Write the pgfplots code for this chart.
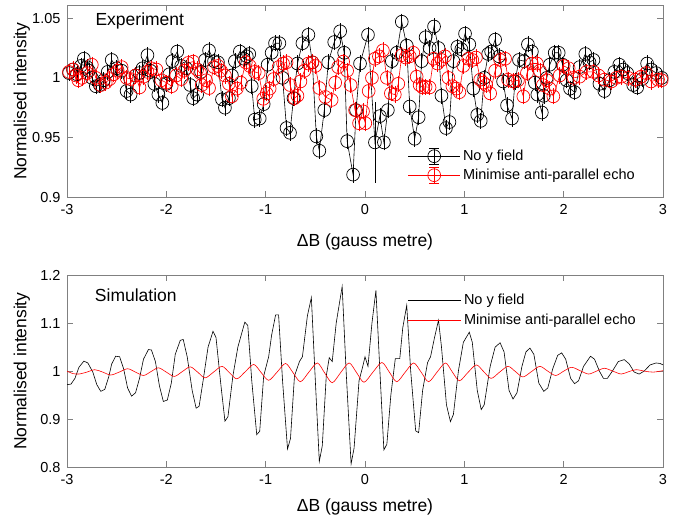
\documentclass[border=0pt]{standalone}
\usepackage{fontspec}
\setmainfont{Liberation Sans}
\usepackage{pgfplots}
\usepackage{pgfplotstable}
\pgfplotsset{compat=1.18}
\definecolor{axgray}{RGB}{128,128,128}

% experiment, no y field
\pgfplotstableread{
x y e
-2.98 1.004 0.003
-2.94 1.007 0.003
-2.90 1.003 0.003
-2.86 1.010 0.003
-2.83 1.016 0.003
-2.80 1.009 0.003
-2.78 1.006 0.003
-2.75 1.000 0.003
-2.71 0.993 0.003
-2.67 0.994 0.003
-2.63 0.998 0.003
-2.59 1.005 0.003
-2.55 1.015 0.003
-2.50 1.008 0.003
-2.45 1.006 0.003
-2.40 0.989 0.003
-2.36 0.986 0.003
-2.31 1.002 0.003
-2.27 1.004 0.003
-2.24 1.008 0.003
-2.19 1.019 0.003
-2.16 1.006 0.003
-2.12 0.995 0.003
-2.08 0.986 0.003
-2.04 0.979 0.003
-2.00 0.995 0.003
-1.97 1.003 0.003
-1.94 1.014 0.003
-1.89 1.022 0.003
-1.85 1.010 0.003
-1.80 1.008 0.003
-1.76 0.994 0.003
-1.73 0.983 0.003
-1.69 0.986 0.003
-1.65 1.005 0.003
-1.61 1.015 0.003
-1.57 1.023 0.003
-1.52 1.014 0.003
-1.48 1.013 0.003
-1.44 0.982 0.003
-1.41 0.975 0.003
-1.37 0.983 0.003
-1.34 1.002 0.003
-1.31 1.014 0.003
-1.26 1.022 0.003
-1.22 1.016 0.003
-1.19 1.018 0.003
-1.165 1.020 0.003
-1.14 0.993 0.003
-1.11 0.965 0.003
-1.06 0.966 0.003
-1.02 0.978 0.003
-0.98 1.011 0.003
-0.94 1.021 0.003
-0.906 1.029 0.003
-0.862 1.029 0.003
-0.83 1.000 0.003
-0.79 0.958 0.003
-0.755 0.954 0.003
-0.72 0.983 0.003
-0.68 1.012 0.003
-0.63 1.029 0.003
-0.57 1.036 0.003
-0.53 1.013 0.003
-0.49 0.951 0.003
-0.46 0.939 0.003
-0.41 0.973 0.003
-0.37 1.013 0.003
-0.31 1.030 0.003
-0.25 1.039 0.003
-0.21 1.021 0.003
-0.18 0.947 0.003
-0.12 0.919 0.003
-0.09 0.973 0.003
-0.05 1.012 0.003
0.03 1.036 0.003
0.10 0.946 0.030
0.15 0.968 0.003
0.19 0.946 0.003
0.23 0.973 0.003
0.27 1.014 0.003
0.32 1.021 0.003
0.37 1.047 0.003
0.42 1.027 0.003
0.45 0.976 0.003
0.50 0.949 0.003
0.54 0.967 0.003
0.57 1.014 0.003
0.61 1.034 0.003
0.65 1.025 0.003
0.695 1.043 0.003
0.74 1.025 0.003
0.77 0.985 0.003
0.815 0.958 0.003
0.85 0.963 0.003
0.89 1.014 0.003
0.93 1.026 0.003
0.97 1.024 0.003
1.007 1.037 0.003
1.05 1.028 0.003
1.09 0.991 0.003
1.13 0.969 0.003
1.165 0.964 0.003
1.20 1.000 0.003
1.24 1.020 0.003
1.27 1.022 0.003
1.31 1.032 0.003
1.35 1.018 0.003
1.39 0.997 0.003
1.43 0.977 0.003
1.48 0.966 0.003
1.51 0.997 0.003
1.55 1.015 0.003
1.60 1.014 0.003
1.64 1.028 0.003
1.68 1.022 0.003
1.71 0.996 0.003
1.735 0.986 0.003
1.78 0.971 0.003
1.80 0.985 0.003
1.83 1.000 0.003
1.86 1.011 0.003
1.91 1.021 0.003
1.95 1.021 0.003
1.99 1.011 0.003
2.03 0.998 0.003
2.064 0.991 0.003
2.11 0.988 0.003
2.16 1.009 0.003
2.218 1.020 0.003
2.26 1.013 0.003
2.30 1.015 0.003
2.36 0.995 0.003
2.41 0.989 0.003
2.46 0.998 0.003
2.51 1.005 0.003
2.56 1.011 0.003
2.60 1.007 0.003
2.64 1.004 0.003
2.70 0.994 0.003
2.74 0.992 0.003
2.79 0.999 0.003
2.84 1.012 0.003
2.88 1.007 0.003
2.93 1.004 0.003
2.987 1.000 0.003
}\expnoy

% experiment, minimise anti-parallel echo
\pgfplotstableread{
x y e
-2.98 1.005 0.003
-2.94 1.007 0.003
-2.91 1.002 0.003
-2.886 0.998 0.003
-2.85 1.000 0.003
-2.80 1.004 0.003
-2.75 1.011 0.003
-2.71 1.000 0.003
-2.66 0.994 0.003
-2.61 0.996 0.003
-2.57 0.999 0.003
-2.53 1.003 0.003
-2.49 1.006 0.003
-2.45 1.009 0.003
-2.40 1.000 0.003
-2.36 0.999 0.003
-2.31 1.002 0.003
-2.27 0.992 0.003
-2.23 1.001 0.003
-2.19 1.005 0.003
-2.15 1.008 0.003
-2.10 1.007 0.003
-2.05 0.998 0.003
-2.00 0.996 0.003
-1.946 0.993 0.003
-1.90 1.002 0.003
-1.85 0.999 0.003
-1.82 1.006 0.003
-1.78 1.0125 0.003
-1.73 1.0136 0.003
-1.69 1.007 0.003
-1.66 1.004 0.003
-1.644 0.994 0.003
-1.60 0.998 0.003
-1.57 0.9915 0.003
-1.52 1.009 0.003
-1.48 1.010 0.003
-1.45 1.006 0.003
-1.41 1.002 0.003
-1.37 0.995 0.003
-1.34 0.9845 0.003
-1.29 0.991 0.003
-1.25 0.996 0.003
-1.20 1.013 0.003
-1.16 1.010 0.003
-1.11 1.005 0.003
-1.07 1.004 0.003
-1.024 0.9825 0.003
-0.99 0.987 0.003
-0.96 0.991 0.003
-0.92 0.999 0.003
-0.87 1.009 0.003
-0.825 1.012 0.003
-0.79 1.013 0.003
-0.755 0.994 0.003
-0.71 0.983 0.003
-0.68 0.985 0.003
-0.65 0.997 0.003
-0.61 1.006 0.003
-0.57 1.012 0.003
-0.53 1.013 0.003
-0.50 1.010 0.003
-0.46 0.9915 0.003
-0.40 0.984 0.003
-0.336 0.9815 0.003
-0.30 0.996 0.003
-0.27 1.009 0.003
-0.22 1.0136 0.003
-0.18 1.006 0.003
-0.145 0.994 0.003
-0.10 0.973 0.003
-0.06 0.962 0.003
-0.02 0.972 0.003
0.003 0.962 0.003
0.037 0.989 0.003
0.07 1.000 0.003
0.10 1.016 0.003
0.14 1.018 0.003
0.18 1.023 0.003
0.22 1.000 0.003
0.26 0.987 0.003
0.30 0.986 0.003
0.335 0.995 0.003
0.37 1.019 0.003
0.41 1.017 0.003
0.45 1.018 0.003
0.486 1.021 0.003
0.52 1.001 0.003
0.55 0.994 0.003
0.58 0.992 0.003
0.61 0.9925 0.003
0.65 0.992 0.003
0.69 1.016 0.003
0.73 1.012 0.003
0.77 1.015 0.003
0.805 1.018 0.003
0.84 1.000 0.003
0.88 0.993 0.003
0.92 0.991 0.003
0.95 0.988 0.003
0.99 1.010 0.003
1.04 1.016 0.003
1.08 1.015 0.003
1.117 1.017 0.003
1.16 0.9985 0.003
1.19 0.996 0.003
1.22 0.994 0.003
1.26 0.987 0.003
1.31 1.006 0.003
1.36 1.015 0.003
1.41 1.016 0.003
1.44 0.9985 0.003
1.49 0.997 0.003
1.54 0.998 0.003
1.594 0.9845 0.003
1.63 1.004 0.003
1.68 1.012 0.003
1.73 1.012 0.003
1.76 1.006 0.003
1.79 0.994 0.003
1.83 0.998 0.003
1.86 0.991 0.003
1.896 0.9845 0.003
1.96 1.002 0.003
2.00 1.010 0.003
2.05 1.008 0.003
2.10 1.000 0.003
2.16 1.001 0.003
2.23 1.005 0.003
2.30 1.005 0.003
2.35 1.002 0.003
2.41 0.9985 0.003
2.48 0.997 0.003
2.53 1.000 0.003
2.58 1.001 0.003
2.65 1.000 0.003
2.72 0.9985 0.003
2.78 1.001 0.003
2.83 1.004 0.003
2.88 0.997 0.003
2.95 0.9985 0.003
2.987 0.998 0.003
}\expmin

% simulation, no y field
\pgfplotstableread{
x y
-3.00 0.972
-2.96 0.973
-2.92 0.985
-2.88 1.008
-2.83 1.021
-2.79 1.017
-2.74 0.998
-2.70 0.972
-2.66 0.958
-2.62 0.962
-2.58 0.988
-2.55 1.015
-2.51 1.031
-2.47 1.030
-2.43 1.005
-2.39 0.965
-2.35 0.948
-2.31 0.955
-2.27 0.985
-2.23 1.025
-2.18 1.045
-2.15 1.044
-2.11 1.020
-2.07 0.970
-2.03 0.937
-1.99 0.940
-1.95 0.975
-1.91 1.035
-1.86 1.064
-1.83 1.066
-1.79 1.030
-1.74 0.960
-1.70 0.923
-1.67 0.927
-1.63 0.980
-1.58 1.050
-1.53 1.083
-1.50 1.070
-1.45 0.970
-1.41 0.896
-1.38 0.905
-1.33 0.990
-1.28 1.050
-1.21 1.102
-1.18 1.095
-1.14 0.980
-1.09 0.868
-1.06 0.875
-1.02 0.990
-0.97 1.030
-0.94 1.075
-0.90 1.117
-0.87 1.117
-0.83 0.980
-0.78 0.838
-0.75 0.860
-0.71 0.990
-0.66 1.020
-0.63 1.030
-0.58 1.115
-0.54 1.153
-0.50 0.980
-0.46 0.812
-0.43 0.845
-0.39 0.990
-0.36 1.028
-0.33 1.020
-0.29 1.100
-0.23 1.176
-0.19 1.000
-0.14 0.807
-0.11 0.840
-0.06 0.980
-0.02 1.012
0.00 1.030
0.03 1.010
0.07 1.100
0.11 1.168
0.15 1.000
0.19 0.836
0.22 0.848
0.26 0.950
0.305 1.026
0.35 1.026
0.38 1.090
0.42 1.137
0.46 1.000
0.51 0.876
0.54 0.872
0.58 0.960
0.63 1.018
0.66 1.030
0.70 1.070
0.74 1.106
0.77 1.050
0.82 0.930
0.86 0.895
0.89 0.910
0.94 1.000
0.99 1.060
1.05 1.081
1.08 1.060
1.13 0.960
1.17 0.920
1.20 0.930
1.26 1.010
1.31 1.050
1.36 1.059
1.40 1.040
1.45 0.960
1.49 0.942
1.53 0.955
1.58 1.010
1.62 1.040
1.66 1.048
1.70 1.035
1.75 0.975
1.80 0.958
1.84 0.965
1.89 1.005
1.94 1.033
1.98 1.038
2.02 1.025
2.07 0.985
2.11 0.974
2.15 0.980
2.20 1.010
2.27 1.031
2.31 1.025
2.36 1.000
2.40 0.985
2.44 0.985
2.49 1.000
2.55 1.020
2.61 1.024
2.66 1.015
2.71 0.998
2.76 0.994
2.81 1.000
2.87 1.013
2.93 1.017
2.97 1.016
3.00 1.013
}\simnoy

% simulation, minimise anti-parallel echo
\pgfplotstableread{
x y
-3.00 1.000
-2.94 0.995
-2.88 0.994
-2.80 0.998
-2.72 1.003
-2.64 0.998
-2.56 0.992
-2.475 0.998
-2.39 1.005
-2.31 0.998
-2.23 0.991
-2.155 0.999
-2.08 1.007
-2.00 0.998
-1.92 0.989
-1.84 0.999
-1.76 1.009
-1.685 0.998
-1.61 0.986
-1.525 0.998
-1.44 1.010
-1.365 0.997
-1.29 0.984
-1.205 0.999
-1.12 1.014
-1.045 0.997
-0.97 0.981
-0.885 0.998
-0.80 1.016
-0.725 0.997
-0.65 0.978
-0.565 0.998
-0.48 1.017
-0.405 0.996
-0.33 0.976
-0.245 0.997
-0.16 1.017
-0.085 0.997
-0.01 0.977
0.08 0.998
0.17 1.018
0.245 0.998
0.32 0.978
0.405 0.998
0.49 1.017
0.565 0.998
0.64 0.978
0.725 0.998
0.81 1.017
0.88 0.998
0.95 0.980
1.035 0.997
1.12 1.013
1.195 0.999
1.27 0.985
1.355 0.998
1.44 1.010
1.515 0.999
1.59 0.988
1.675 0.999
1.76 1.010
1.84 1.000
1.92 0.991
2.00 1.000
2.08 1.008
2.165 1.001
2.25 0.994
2.33 1.000
2.41 1.006
2.495 1.000
2.58 0.994
2.655 0.999
2.73 1.003
2.815 1.000
2.90 0.998
3.00 1.001
}\simmin

\pgfplotsset{
  panel/.style={
    scale only axis, width=596pt, height=192.3pt,
    xmin=-3, xmax=3, xtick={-3,-2,...,3},
    tick align=inside, major tick length=6pt,
    axis line style={axgray, line width=0.6pt},
    tick style={axgray, line width=0.6pt},
    ticklabel style={font=\fontsize{14.5}{16}\selectfont, text=black},
    xticklabel style={yshift=-4pt},
    yticklabel style={xshift=-3pt},
    /pgf/number format/assume math mode=true,
    xlabel={ΔB (gauss metre)},
    ylabel={Normalised intensity},
    every axis y label/.style={at={(axis description cs:-0.068,0.5)}, rotate=90,
      anchor=base, font=\fontsize{17.5}{20}\selectfont},
    legend cell align=left,
    legend style={draw=none, fill=none, inner sep=0pt, outer sep=0pt,
      font=\fontsize{14.5}{16}\selectfont,
      nodes={inner sep=2.5pt, text=black}},
  },
  ebleg/.style={legend image code/.code={
    \draw[##1,mark repeat=2,mark phase=2] plot coordinates {(0pt,0pt) (26pt,0pt) (52pt,0pt)};
    \draw[##1] (26pt,-8pt) -- (26pt,8pt) (21pt,-8pt) -- (31pt,-8pt) (21pt,8pt) -- (31pt,8pt);}},
  lnleg/.style={legend image code/.code={
    \draw[##1] (0pt,0pt) -- (53pt,0pt);}},
}

\begin{document}
\begin{tikzpicture}
\path[use as bounding box] (0pt,0pt) rectangle (676pt,-519pt);

\begin{axis}[panel, at={(67pt,-5pt)}, anchor=north west,
    ymin=0.9, ymax=1.061, ytick={0.9,0.95,1,1.05},
    every axis x label/.style={at={(axis description cs:0.5,0)}, anchor=base,
      yshift=-49pt, font=\fontsize{17.5}{20}\selectfont},
    ebleg,
    legend style={at={(axis description cs:0.572,0.258)}, anchor=north west, row sep=2pt}]
\addplot[black, line width=0.6pt, mark=o, mark size=6.4pt,
    mark options={line width=0.7pt},
    error bars/.cd, y dir=both, y explicit,
    error bar style={black, line width=0.6pt},
    error mark options={black, mark size=4.5pt, line width=0.6pt}]
  table[x=x, y=y, y error=e] {\expnoy};
\addlegendentry{No y field}
\addplot[red, line width=0.6pt, mark=o, mark size=6.4pt,
    mark options={line width=0.7pt},
    error bars/.cd, y dir=both, y explicit,
    error bar style={red, line width=0.6pt},
    error mark options={red, mark size=4.5pt, line width=0.6pt}]
  table[x=x, y=y, y error=e] {\expmin};
\addlegendentry{Minimise anti-parallel echo}
\node[anchor=base west, font=\fontsize{17.5}{20}\selectfont] at (rel axis cs:0.042,0.896) {Experiment};
\end{axis}

\begin{axis}[panel, at={(67pt,-275pt)}, anchor=north west,
    ymin=0.8, ymax=1.2, ytick={0.8,0.9,1,1.1,1.2},
    every axis x label/.style={at={(axis description cs:0.5,0)}, anchor=base,
      yshift=-44pt, font=\fontsize{17.5}{20}\selectfont},
    lnleg,
    legend style={at={(axis description cs:0.572,0.915)}, anchor=north west, row sep=3pt}]
\addplot[black, line width=0.6pt, no markers] table[x=x, y=y] {\simnoy};
\addlegendentry{No y field}
\addplot[red, line width=0.6pt, no markers, smooth] table[x=x, y=y] {\simmin};
\addlegendentry{Minimise anti-parallel echo}
\node[anchor=base west, font=\fontsize{17.5}{20}\selectfont] at (rel axis cs:0.041,0.861) {Simulation};
\end{axis}
\end{tikzpicture}
\end{document}
